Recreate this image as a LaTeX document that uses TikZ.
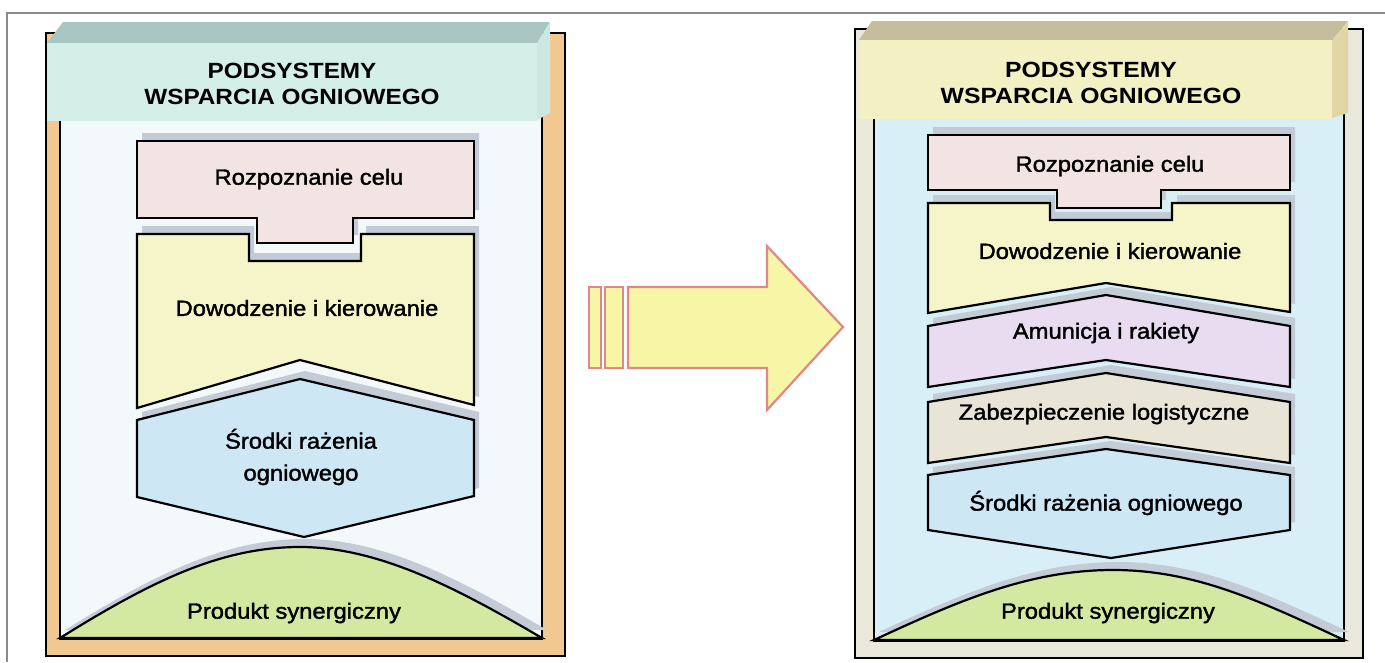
\documentclass[tikz,border=0pt]{standalone}
\usepackage{fontspec}
\usepackage{graphicx}
\setmainfont{Liberation Sans}
\newfontface\lblface{Liberation Sans}[FakeBold=1.6]
\definecolor{framec}{HTML}{8A8A8A}
\definecolor{tanband}{HTML}{F0C890}
\definecolor{leftin}{HTML}{F3F9FB}
\definecolor{bandR}{HTML}{E9E8DA}
\definecolor{rightin}{HTML}{D9EFF7}
\definecolor{rozpc}{HTML}{F3E4E4}
\definecolor{dowc}{HTML}{F6F5C9}
\definecolor{sroc}{HTML}{CDE7F5}
\definecolor{prodc}{HTML}{D3E9A2}
\definecolor{amuc}{HTML}{E9DCF1}
\definecolor{zabc}{HTML}{E8E4D6}
\definecolor{shadowc}{HTML}{C3CCD6}
\definecolor{ltop}{HTML}{A9C6C2}
\definecolor{lside}{HTML}{CDE8E2}
\definecolor{lfa}{HTML}{D4EEE8}
\definecolor{lfb}{HTML}{F2F8E2}
\definecolor{rtop}{HTML}{C5BD9C}
\definecolor{rside}{HTML}{E0D6A6}
\definecolor{rfa}{HTML}{F3F0C4}
\definecolor{rfb}{HTML}{FAFAE2}
\definecolor{arrfill}{HTML}{F6F6A6}
\definecolor{arrline}{HTML}{E08888}
\newcommand{\sx}[1]{\scalebox{1.08}[1]{#1}}
\newcommand{\sxt}[1]{\scalebox{1.105}[1]{#1}}
\newcommand{\sxr}[1]{\scalebox{1.125}[1]{#1}}
\begin{document}
\begin{tikzpicture}[x=1pt,y=-1pt,
  shp/.style={draw=black, line width=2.2pt, line join=miter},
  shd/.style={fill=shadowc, draw=none, shift={(5,-8)}},
  panel/.style={draw=black, line width=2.2pt},
  lbl/.style={font=\lblface\fontsize{22}{32}\selectfont, inner sep=0pt, align=center, text=black},
  ttl/.style={font=\fontsize{22}{25.5}\selectfont\bfseries, inner sep=0pt, align=center, text=black},
  arr/.style={fill=arrfill, draw=arrline, line width=2.2pt, line join=miter}]
\useasboundingbox (0,0) rectangle (1385,662);
\fill[white] (0,0) rectangle (1385,662);
\draw[framec, line width=1.2pt] (7,662) -- (7,13) -- (1385,13);

% ---------------- left panel ----------------
\draw[panel, fill=tanband] (46,33) rectangle (565,656);
\draw[panel, fill=leftin] (60,43) rectangle (542,639);
\fill[ltop] (47,43) -- (63,22) -- (550,22) -- (537,43) -- cycle;
\shade[top color=lfa, middle color=lfb, bottom color=lfa] (47,43) rectangle (537,120);
\fill[lside] (537,43) -- (550,22) -- (550,113) -- (537,120) -- cycle;
\node[ttl] (titleL) at (292,84) {\sxt{PODSYSTEMY}\\\sxt{WSPARCIA OGNIOWEGO}};

\def\rozpL{(137,141) -- (474,141) -- (474,218) -- (353,218) -- (353,243) -- (257,243) -- (257,218) -- (137,218) -- cycle}
\def\dowL{(137,234) -- (249,234) -- (249,261) -- (361,261) -- (361,234) -- (474,234) -- (474,405) -- (300,360) -- (137,408) -- cycle}
\def\sroL{(137,420) -- (300,379) -- (474,420) -- (474,496) -- (304,537) -- (137,497) -- cycle}
\def\prodL{(60,638) .. controls (150,582) and (220,547) .. (300,547) .. controls (380,547) and (460,590) .. (542,638) -- cycle}
\fill[shd] \rozpL;
\draw[shp, fill=rozpc] \rozpL;
\fill[shd] \dowL;
\draw[shp, fill=dowc] \dowL;
\fill[shd] \sroL;
\draw[shp, fill=sroc] \sroL;
\fill[shd] \prodL;
\draw[shp, fill=prodc] \prodL;
\draw[panel] (60,639) -- (542,639);
\node[lbl] (rozpLt) at (309,179) {\sx{Rozpoznanie celu}};
\node[lbl] (dowLt) at (307,308) {\sx{Dowodzenie i kierowanie}};
\node[lbl] (sroLt) at (301,457) {\sx{Środki rażenia}\\\sx{ogniowego}};
\node[lbl] (prodLt) at (294,613) {\sx{Produkt synergiczny}};

% ---------------- arrow ----------------
\draw[arr] (589,287) rectangle (601,368);
\draw[arr] (605,287) rectangle (623,368);
\draw[arr] (628,287) -- (767,287) -- (767,246) -- (843,327) -- (767,410) -- (767,368) -- (628,368) -- cycle;

% ---------------- right panel ----------------
\draw[panel, fill=bandR] (855,29) rectangle (1363,658);
\draw[panel, fill=rightin] (874,40) rectangle (1344,641);
\fill[rtop] (859,40) -- (872,21) -- (1348,21) -- (1332,40) -- cycle;
\shade[top color=rfa, middle color=rfb, bottom color=rfa] (859,40) rectangle (1332,118);
\fill[rside] (1332,40) -- (1348,21) -- (1348,113) -- (1332,118) -- cycle;
\node[ttl] (titleR) at (1091,83) {\sxr{PODSYSTEMY}\\\sxr{WSPARCIA OGNIOWEGO}};

\def\rozpR{(928,135) -- (1290,135) -- (1290,190) -- (1161,190) -- (1161,208) -- (1057,208) -- (1057,190) -- (928,190) -- cycle}
\def\dowR{(928,203) -- (1050,203) -- (1050,220) -- (1172,220) -- (1172,203) -- (1290,203) -- (1290,312) -- (1106,283) -- (928,313) -- cycle}
\def\amuR{(928,326) -- (1106,295) -- (1290,326) -- (1290,387) -- (1106,360) -- (928,387) -- cycle}
\def\zabR{(928,402) -- (1106,373) -- (1290,402) -- (1290,463) -- (1106,437) -- (928,463) -- cycle}
\def\sroR{(928,475) -- (1106,449) -- (1290,475) -- (1290,530) -- (1111,558) -- (928,530) -- cycle}
\def\prodR{(874,640) .. controls (960,600) and (1030,570) .. (1113,570) .. controls (1196,570) and (1262,602) .. (1344,640) -- cycle}
\fill[shd] \rozpR;
\draw[shp, fill=rozpc] \rozpR;
\fill[shd] \dowR;
\draw[shp, fill=dowc] \dowR;
\fill[shd] \amuR;
\draw[shp, fill=amuc] \amuR;
\fill[shd] \zabR;
\draw[shp, fill=zabc] \zabR;
\fill[shd] \sroR;
\draw[shp, fill=sroc] \sroR;
\fill[shd] \prodR;
\draw[shp, fill=prodc] \prodR;
\draw[panel] (874,641) -- (1344,641);
\node[lbl] (rozpRt) at (1110,166) {\sx{Rozpoznanie celu}};
\node[lbl] (dowRt) at (1110,251) {\sx{Dowodzenie i kierowanie}};
\node[lbl] (amuRt) at (1106,333) {\sx{Amunicja i rakiety}};
\node[lbl] (zabRt) at (1104,414) {\sx{Zabezpieczenie logistyczne}};
\node[lbl] (sroRt) at (1106,503) {\sx{Środki rażenia ogniowego}};
\node[lbl] (prodRt) at (1108,613) {\sx{Produkt synergiczny}};
\end{tikzpicture}
\end{document}
